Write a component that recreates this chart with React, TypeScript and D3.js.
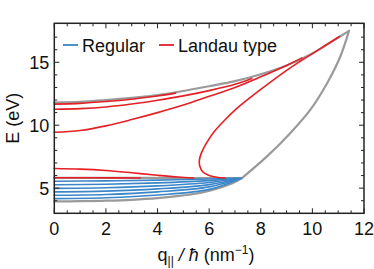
import React from 'react';
import * as d3 from 'd3';

type Pt = [number, number];

// axis ticks
const xTicks = [0, 2, 4, 6, 8, 10, 12];
const yTicks = [5, 10, 15];

const BLUE = '#3a86c8';
const RED = '#e41f26';
const GRAY = '#9a9a9a';

const legendItems = [
  { label: 'Regular', color: BLUE },
  { label: 'Landau type', color: RED },
];

// boundary of the allowed region (gray)
const grayLower: Pt[] = [[0, 3.95], [1, 3.96], [2, 4.0], [3, 4.07], [4, 4.2], [5, 4.42], [5.65, 4.62], [6.3, 4.95], [6.9, 5.38], [7.27, 5.8]];
const grayFlat: Pt[] = [[0, 5.82], [3.5, 5.81], [7.27, 5.8]];
const grayRight: Pt[] = [[7.27, 5.8], [8.23, 7.5], [9.14, 9.37], [9.91, 11.2], [10.56, 13.3], [11.07, 15.4], [11.42, 17.5]];
const grayUpper: Pt[] = [[0, 11.8], [1, 11.85], [2, 12.0], [3, 12.18], [4, 12.4], [5, 12.72], [6, 13.1], [7, 13.5], [8, 14.05], [9, 14.75], [10, 15.7], [10.8, 16.7], [11.42, 17.5]];

// regular modes (blue)
const regularModes: Pt[][] = [
  [[0, 5.55], [2, 5.58], [4, 5.64], [6, 5.73], [7.05, 5.79]],
  [[0, 5.27], [2, 5.31], [4, 5.42], [6, 5.6], [7.1, 5.78]],
  [[0, 4.98], [2, 5.03], [4, 5.18], [6, 5.45], [7.15, 5.78]],
  [[0, 4.7], [2, 4.76], [4, 4.94], [6, 5.28], [7.2, 5.78]],
  [[0, 4.43], [2, 4.49], [4, 4.7], [6, 5.1], [7.22, 5.78]],
  [[0, 4.17], [2, 4.23], [4, 4.45], [6, 4.9], [7.25, 5.79]],
];

// Landau-type modes (red)
const landauModes: Pt[][] = [
  [[0, 11.68], [1, 11.74], [2, 11.88], [3, 12.07], [4, 12.32], [4.7, 12.55]],
  [[0, 11.27], [1, 11.32], [2, 11.45], [3, 11.68], [4, 11.98], [5, 12.33], [6, 12.75], [7, 13.25], [7.65, 13.72]],
  [[0, 9.44], [1, 9.58], [2, 9.95], [3, 10.45], [4, 11.0], [5, 11.6], [6, 12.3], [7, 13.0], [8, 13.85], [9, 14.75], [9.6, 15.35]],
  [[6.62, 5.8], [6.3, 5.87], [6.0, 6.0], [5.75, 6.3], [5.63, 6.8], [5.62, 7.2], [5.7, 7.8], [5.9, 8.6], [6.2, 9.5], [6.6, 10.4], [7.0, 11.2], [7.5, 12.05], [8.0, 12.85], [9.1, 14.5], [10.2, 15.95], [11.05, 17.05]],
  [[0, 6.56], [1, 6.51], [2, 6.4], [3, 6.22], [4, 6.02], [4.8, 5.88], [5.4, 5.81]],
  [[0, 5.82], [1.5, 5.82], [3.33, 5.81]],
];

const W = 374;
const H = 269;
const L = 54.3, R = 364, T = 23.3, B = 213.3;
const FONT = 'Liberation Sans, Arial, Helvetica, sans-serif';

export default function App() {
  const x = d3.scaleLinear().domain([0, 12]).range([L, R]);
  const y = d3.scaleLinear().domain([3, 18.1]).range([B, T]);
  const line = d3.line<Pt>().x(d => x(d[0])).y(d => y(d[1])).curve(d3.curveCatmullRom);

  const xMinor = d3.range(0, 12.01, 0.5);
  const yMinor = d3.range(4, 18, 1);

  return (
    <svg width={W} height={H} style={{ position: 'absolute', left: 0, top: 0, background: '#fff' }} fontFamily={FONT}>
      <g fill="none" strokeLinecap="round">
        {[grayLower, grayFlat, grayRight, grayUpper].map((d, i) => (
          <path key={'g' + i} d={line(d) || ''} stroke={GRAY} strokeWidth={2.2} />
        ))}
        {regularModes.map((d, i) => (
          <path key={'b' + i} d={line(d) || ''} stroke={BLUE} strokeWidth={1.6} />
        ))}
        {landauModes.map((d, i) => (
          <path key={'r' + i} d={line(d) || ''} stroke={RED} strokeWidth={1.6} />
        ))}
      </g>

      {/* ticks, inward on all sides */}
      <g stroke="#222" strokeWidth={1}>
        {xMinor.map(v => {
          const len = xTicks.includes(v) ? 5 : 3;
          return (
            <g key={'xt' + v}>
              <line x1={x(v)} x2={x(v)} y1={B} y2={B - len} />
              <line x1={x(v)} x2={x(v)} y1={T} y2={T + len} />
            </g>
          );
        })}
        {yMinor.map(v => {
          const len = yTicks.includes(v) ? 5 : 3;
          return (
            <g key={'yt' + v}>
              <line x1={L} x2={L + len} y1={y(v)} y2={y(v)} />
              <line x1={R} x2={R - len} y1={y(v)} y2={y(v)} />
            </g>
          );
        })}
      </g>
      <rect x={L} y={T} width={R - L} height={B - T} fill="none" stroke="#222" strokeWidth={1.5} />

      {/* tick labels */}
      <g fontSize={18} fill="#111">
        {xTicks.map(v => (
          <text key={'xl' + v} x={x(v)} y={235} textAnchor="middle">{v}</text>
        ))}
        {yTicks.map(v => (
          <text key={'yl' + v} x={L - 5} y={y(v) + 6.5} textAnchor="end">{v}</text>
        ))}
      </g>

      {/* axis titles */}
      <text x={206} y={261} textAnchor="middle" fontSize={18} fill="#111">
        q<tspan fontSize={12} dy={4}>||</tspan>
        <tspan dy={-4}> </tspan>
        <tspan fontStyle="italic">/ ħ</tspan>
        <tspan> (nm</tspan>
        <tspan fontSize={12} dy={-7}>−1</tspan>
        <tspan dy={7}>)</tspan>
      </text>
      <text transform={`translate(19,${(T + B) / 2}) rotate(-90)`} textAnchor="middle" fontSize={18} fill="#111">E (eV)</text>

      {/* legend */}
      <g fontSize={18} fill="#111">
        {legendItems.map((it, i) => {
          const lx = i === 0 ? 63 : 159;
          return (
            <g key={it.label}>
              <line x1={lx} x2={lx + 15} y1={45} y2={45} stroke={it.color} strokeWidth={1.8} />
              <text x={lx + 19} y={51.5}>{it.label}</text>
            </g>
          );
        })}
      </g>
    </svg>
  );
}
